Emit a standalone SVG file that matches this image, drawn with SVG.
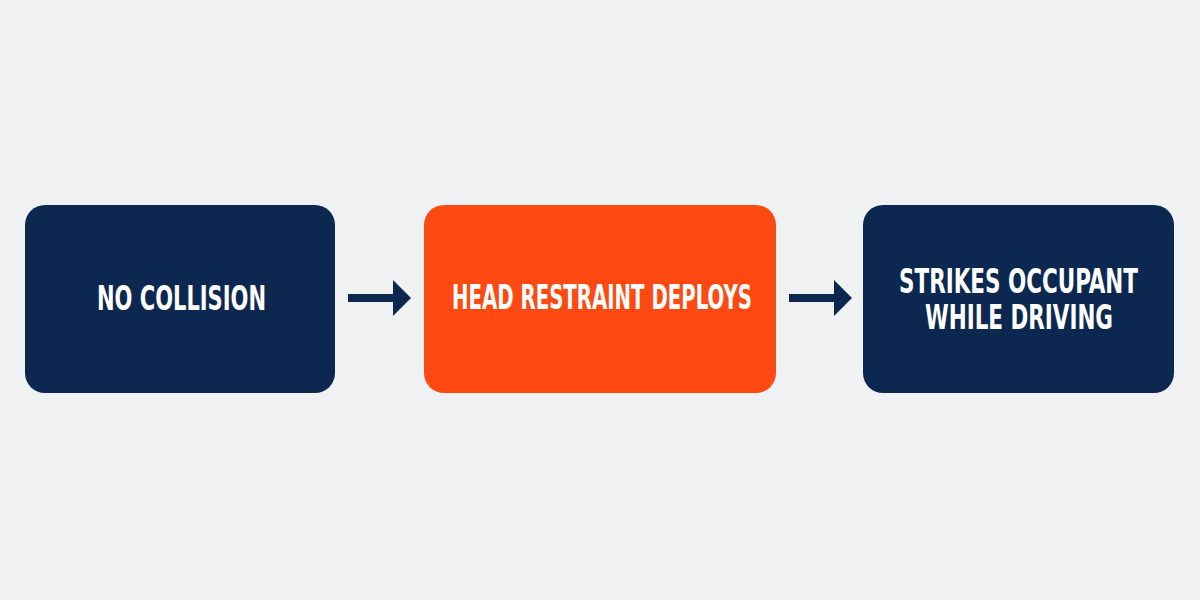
<svg xmlns="http://www.w3.org/2000/svg" width="1200" height="600" viewBox="0 0 1200 600">
  <defs>
    <style>
      .navy { fill: #0d2850; }
      .orange { fill: #fe4a12; }
      .lbl { font-family: "DejaVu Sans Condensed", "DejaVu Sans", "Liberation Sans", sans-serif; font-weight: bold; font-size: 33px; fill: #ffffff; text-anchor: middle; }
      .conn { stroke: #0d2850; stroke-width: 8; fill: none; }
      .head { fill: #0d2850; }
    </style>
  </defs>
  <rect width="1200" height="600" fill="#f0f1f3"/>
  <g id="connectors">
    <g id="c1">
      <line class="conn" x1="348" y1="298" x2="395" y2="298"/>
      <polygon class="head" points="393,280 411,298 393,316"/>
    </g>
    <g id="c2">
      <line class="conn" x1="789" y1="298" x2="836" y2="298"/>
      <polygon class="head" points="834,280 852,298 834,316"/>
    </g>
  </g>
  <g id="node1">
    <rect class="navy" x="25" y="205" width="310" height="188" rx="20"/>
    <text class="lbl" x="181.5" y="310" textLength="169" lengthAdjust="spacingAndGlyphs">NO COLLISION</text>
  </g>
  <g id="node2">
    <rect class="orange" x="424" y="205" width="352" height="188" rx="20"/>
    <text class="lbl" x="602" y="309" textLength="300" lengthAdjust="spacingAndGlyphs">HEAD RESTRAINT DEPLOYS</text>
  </g>
  <g id="node3">
    <rect class="navy" x="863" y="205" width="311" height="188" rx="20"/>
    <text class="lbl" x="1018.5" y="293" textLength="239" lengthAdjust="spacingAndGlyphs">STRIKES OCCUPANT</text>
    <text class="lbl" x="1019" y="329" textLength="188" lengthAdjust="spacingAndGlyphs">WHILE DRIVING</text>
  </g>
</svg>
